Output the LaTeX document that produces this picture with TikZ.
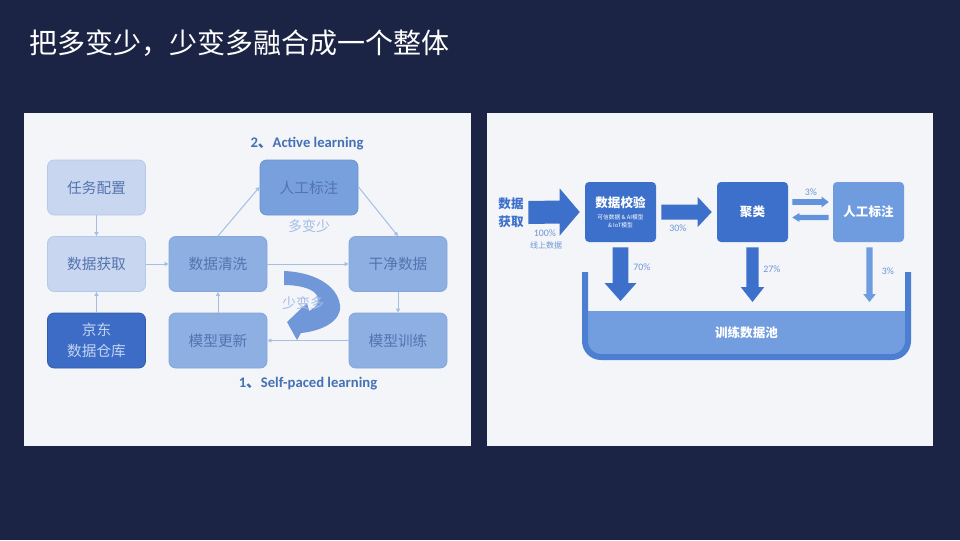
\documentclass[tikz,border=0pt]{standalone}
\usepackage{fontspec}
\setmainfont{Noto Sans CJK SC}
\newfontfamily\carl{Carlito}
\usetikzlibrary{arrows.meta,calc}
\definecolor{bg}{HTML}{1B2444}
\definecolor{panel}{HTML}{F3F5F9}
\definecolor{lightbox}{HTML}{C8D7EF}
\definecolor{lightboxb}{HTML}{B5C8E9}
\definecolor{midbox}{HTML}{8DAFE2}
\definecolor{midboxb}{HTML}{84A7DC}
\definecolor{rgbox}{HTML}{78A0DC}
\definecolor{darkbox}{HTML}{3C6CC6}
\definecolor{ltext}{HTML}{5473B0}
\definecolor{jdtext}{HTML}{C3D4F2}
\definecolor{connc}{HTML}{A7BEE3}
\definecolor{lbl}{HTML}{4470B4}
\definecolor{blk}{HTML}{3D70CA}
\definecolor{blkmid}{HTML}{6393DA}
\definecolor{blklt}{HTML}{6F9BDF}
\definecolor{pct}{HTML}{6F96D4}
\definecolor{wallc}{HTML}{4C7ED2}
\definecolor{poolf}{HTML}{729DDF}
\definecolor{curv}{HTML}{7098D8}
\definecolor{stylt}{HTML}{A3BCE6}
\newcommand\blkh[6]{%
  \fill[#1] ($(#2)+(0,{-(#4)})$) -- ($(#3)+({-(#6)},{-(#4)})$) -- ($(#3)+({-(#6)},{-(#5)})$) -- (#3) -- ($(#3)+({-(#6)},{#5})$) -- ($(#3)+({-(#6)},{#4})$) -- ($(#2)+(0,{#4})$) -- cycle;}
\newcommand\blkv[6]{%
  \fill[#1] ($(#2)+({-(#4)},0)$) -- ($(#3)+({-(#4)},{-(#6)})$) -- ($(#3)+({-(#5)},{-(#6)})$) -- (#3) -- ($(#3)+({#5},{-(#6)})$) -- ($(#3)+({#4},{-(#6)})$) -- ($(#2)+({#4},0)$) -- cycle;}
\begin{document}
\begin{tikzpicture}[x=0.75pt,y=-0.75pt,
  lb/.style={rounded corners=5pt, minimum width=73.5pt, minimum height=41.25pt, inner sep=0pt,
     font=\fontsize{11}{15.75}\selectfont, text=ltext, line width=0.6pt},
  conn/.style={draw=connc, line width=0.75pt, -{Triangle[length=3pt,width=3pt]}},
  elbl/.style={text=lbl, font=\carl\bfseries\fontsize{11}{13}\selectfont, inner sep=0pt},
  rb/.style={rounded corners=3pt, minimum width=53.25pt, minimum height=45pt, inner sep=0pt,
     text=white, font=\bfseries\fontsize{9.4}{11}\selectfont},
  rbt/.style={text=white, font=\bfseries\fontsize{9.4}{11}\selectfont, inner sep=0pt},
  tinyt/.style={text=white, font=\fontsize{4.3}{5}\selectfont, inner sep=0pt},
  pctt/.style={text=pct, font=\carl\fontsize{7.4}{8}\selectfont, inner sep=0pt},
  styl/.style={text=stylt, font=\fontsize{10.5}{12}\selectfont, inner sep=0pt}]
\useasboundingbox (0,0) rectangle (960,540);
\fill[bg] (0,0) rectangle (960,540);
\node[anchor=west, text=white, font=\fontsize{21}{21}\selectfont, inner sep=0pt] (title) at (29,43) {把多变少，少变多融合成一个整体};
% panels
\fill[panel] (24,113) rectangle (471,446);
\fill[panel] (487,113) rectangle (933,446);
% ---------- left diagram ----------
% curved arrow
\fill[curv] (284,271) .. controls (312,272) and (337,284) .. (340,305)
  .. controls (342,321) and (322,331) .. (301,333)
  -- (297,340) -- (287,322) -- (307,303) -- (309,311)
  .. controls (318,307) and (320,300) .. (316,294)
  .. controls (311,288) and (298,285) .. (284,285) -- cycle;
\node[lb, fill=lightbox, draw=lightboxb] (rw) at (96.5,187.5) {任务配置};
\node[lb, fill=lightbox, draw=lightboxb] (hq) at (96.5,264) {数据获取};
\node[lb, fill=darkbox, draw=darkbox!85!black, text=jdtext, align=center] (jd) at (96.5,340.5) {京东\\数据仓库};
\node[lb, fill=midbox, draw=midboxb] (qx) at (218,264) {数据清洗};
\node[lb, fill=midbox, draw=midboxb] (gx) at (218,340.5) {模型更新};
\node[lb, fill=rgbox, draw=rgbox!92!black] (rg) at (309,187.5) {人工标注};
\node[lb, fill=midbox, draw=midboxb] (gj) at (398,264) {干净数据};
\node[lb, fill=midbox, draw=midboxb] (xl) at (398,340.5) {模型训练};
\draw[conn] (rw.south) -- (hq.north);
\draw[conn] (jd.north) -- (hq.south);
\draw[conn] (hq.east) -- (qx.west);
\draw[conn] (qx.north) -- ([yshift=0.5pt]rg.west);
\draw[conn] ([yshift=0.5pt]rg.east) -- (gj.north);
\draw[conn] (qx.east) -- (gj.west);
\draw[conn] (gj.south) -- (xl.north);
\draw[conn] (xl.west) -- (gx.east);
\draw[conn] (gx.north) -- (qx.south);
\node[styl] (dbs) at (309,226) {多变少};
\node[styl] (sbd) at (303,303) {少变多};
\node[elbl] (al) at (307,144) {2{\rmfamily\bfseries 、}Active learning};
\node[elbl] (spl) at (308,384) {1{\rmfamily\bfseries 、}Self-paced learning};
% ---------- right diagram ----------
% pool
\fill[poolf] (585,311) rectangle (908,340);
\fill[poolf, rounded corners=10pt] (585,320) rectangle (908,357);
\draw[wallc, line width=4.5pt, rounded corners=12pt] (585,272) -- (585,357) -- (908,357) -- (908,272);
\node[rbt] (pool) at (746.5,333) {训练数据池};
\node[text=blk, font=\bfseries\fontsize{9.4}{13.7}\selectfont, align=center, inner sep=0pt] (src) at (511,212.5) {数据\\获取};
\node[rb, fill=blk] (jy) at (620.5,212) {};
\node[rbt] (jyt) at (620.5,203) {数据校验};
\node[tinyt] (jys1) at (620.5,217) {可信数据 \& AI模型};
\node[tinyt] (jys2) at (620.5,225) {\& IoT模型};
\node[rb, fill=blk] (jl) at (752.5,212) {聚类};
\node[rb, fill=blklt] (rg2) at (868.5,212) {人工标注};
% block arrows
\coordinate (a1s) at ([xshift=3.5pt]src.east);
\coordinate (a1e) at ([xshift=-3.75pt]jy.west);
\blkh{blk}{a1s}{a1e}{11.5}{23.5}{20}
\coordinate (a2s) at ([xshift=3.75pt]jy.east);
\coordinate (a2e) at ([xshift=-3.75pt]jl.west);
\blkh{blk}{a2s}{a2e}{7.5}{15}{14}
\coordinate (u1) at ([shift={(3pt,7.5pt)}]jl.east);
\coordinate (u2) at ([shift={(-3pt,7.5pt)}]rg2.west);
\blkh{blkmid}{u1}{u2}{2.8}{5.3}{7}
\coordinate (l1) at ([shift={(-3pt,-4.1pt)}]rg2.west);
\coordinate (l2) at ([shift={(3pt,-4.1pt)}]jl.east);
\blkh{blkmid}{l1}{l2}{2.6}{4.4}{-7}
\coordinate (d1s) at ([yshift=-3.75pt]jy.south);
\coordinate (d1e) at (620.5,301);
\blkv{blk}{d1s}{d1e}{7.8}{16}{18}
\coordinate (d2s) at ([yshift=-3.75pt]jl.south);
\coordinate (d2e) at (752.5,302);
\blkv{blk}{d2s}{d2e}{6.2}{11.8}{15}
\coordinate (d3s) at ([shift={(0.75pt,-3.75pt)}]rg2.south);
\coordinate (d3e) at (869.5,302);
\blkv{blklt}{d3s}{d3e}{3.2}{6.3}{8}
% labels
\node[pctt] (p100) at (545,233) {100\%};
\node[text=pct, font=\fontsize{6}{7}\selectfont, inner sep=0pt] (online) at (546,245) {线上数据};
\node[pctt] (p30) at (678,228) {30\%};
\node[pctt] (p70) at (642,267) {70\%};
\node[pctt] (p27) at (772,269) {27\%};
\node[pctt] (p3a) at (811,192) {3\%};
\node[pctt] (p3b) at (888,271) {3\%};
\end{tikzpicture}
\end{document}
